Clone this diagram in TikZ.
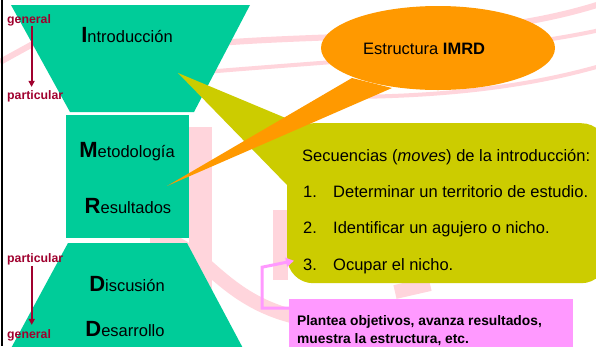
\documentclass[tikz,border=0pt]{standalone}
\usepackage{fontspec}
\setmainfont{Liberation Sans}
\usetikzlibrary{shapes.geometric,arrows.meta}
\definecolor{verde}{HTML}{00CC99}
\definecolor{oliva}{HTML}{CCCC00}
\definecolor{naranja}{HTML}{FF9900}
\definecolor{rosa}{HTML}{FF99FF}
\definecolor{granate}{HTML}{A0002E}
\definecolor{marca}{HTML}{FFD5DC}
\newcommand\inicial[1]{{\fontsize{22}{24}\selectfont\bfseries #1}}

\begin{document}
\begin{tikzpicture}[x=1pt,y=-1pt,
  etapa/.style={anchor=base,inner sep=0pt,font=\fontsize{16.5}{18}\selectfont},
  sentido/.style={anchor=base west,inner sep=0pt,text=granate,font=\fontsize{12.3}{13}\selectfont\bfseries},
  flecha/.style={draw=granate,line width=2pt,-{Triangle[length=6pt,width=6pt]}},
  paso/.style={anchor=base west,inner sep=0pt,font=\fontsize{16.5}{18}\selectfont},
  marcaagua/.style={draw=marca,line width=6pt}]
  \useasboundingbox (0,0) rectangle (596,346);
  \clip (0,0) rectangle (596,346);

  \fill[white] (0,0) rectangle (596,346);
  \fill[marca] (189,127) rectangle (212,346);
  \fill[marca] (273,210) rectangle (288,280);
  \draw[marcaagua] (0,62) -- (40,40);
  \draw[marcaagua] (205,44) .. controls (350,32) and (480,42) .. (600,4);
  \draw[marcaagua,line width=4pt] (205,72) .. controls (350,60) and (500,52) .. (600,30);
  \draw[marcaagua,line width=4pt] (350,97) .. controls (450,96) and (530,86) .. (600,66);
  \draw[marcaagua,line width=14pt] (150,238) .. controls (200,236) and (215,300) .. (300,318);
  \draw[marcaagua,line width=14pt] (395,292) -- (430,284);

  \draw[line width=2.5pt] (2,0) -- (2,346);

  \fill[verde] (11,5) -- (250,5) -- (194,112) -- (70,112) -- cycle;
  \fill[verde] (66,115) rectangle (189,238);
  \fill[verde] (68,243) -- (187,243) -- (245,352) -- (9,352) -- cycle;

  \fill[oliva] (178,73) -- (300,124) -- (288,186) -- cycle;
  \draw(287,123) node[anchor=north west,fill=oliva,rounded corners=26pt,minimum width=320pt,minimum height=160pt] (secuencias) {};

  \fill[naranja] (167,186) -- (352,78) -- (392,88) -- cycle;
  \draw(438,48) node[ellipse,fill=naranja,minimum width=234pt,minimum height=84pt] (imrd) {};
  \draw(363,54) node[paso] (imrdtxt) {Estructura \textbf{IMRD}};

  \draw(289,299) node[anchor=north west,fill=rosa,minimum width=284pt,minimum height=60pt] (nota) {};

  \draw(127,42) node[etapa] (intro) {\inicial{I}ntroducción};
  \draw(127,157) node[etapa] (metodo) {\inicial{M}etodología};
  \draw(128,213) node[etapa] (result) {\inicial{R}esultados};
  \draw(127,291) node[etapa] (discu) {\inicial{D}iscusión};
  \draw(125,336) node[etapa] (desar) {\inicial{D}esarrollo};

  \draw(7,23) node[sentido] (gen1) {general};
  \draw(7,99) node[sentido] (par1) {particular};
  \draw(7,262) node[sentido] (par2) {particular};
  \draw(7,338) node[sentido] (gen2) {general};
  \draw[flecha,shorten >=3pt] ([xshift=2.5pt]gen1.south) -- ([xshift=2.5pt]gen1.south |- par1.north);
  \draw[flecha,shorten >=4pt,shorten <=1pt] ([xshift=-3.5pt]par2.south) -- ([xshift=-3.5pt]par2.south |- gen2.north);

  \draw(302,161) node[paso] (titulo) {Secuencias (\textit{moves}) de la introducción:};
  \draw(303,197) node[paso] (paso1) {\makebox[30pt][l]{1.}Determinar un territorio de estudio.};
  \draw(303,233) node[paso] (paso2) {\makebox[30pt][l]{2.}Identificar un agujero o nicho.};
  \draw(303,270) node[paso] (paso3) {\makebox[30pt][l]{3.}Ocupar el nicho.};

  \draw(297,343) node[anchor=base west,inner sep=0pt,align=left,font=\fontsize{13.8}{18}\selectfont\bfseries] (notatxt) {Plantea objetivos, avanza resultados,\\muestra la estructura, etc.};

  \draw[draw=rosa,line width=3pt,-{Triangle[length=8pt,width=9pt]}] ([yshift=21pt]nota.west) -- ++(-27,0) -- ++(0,-41) -- ([xshift=-9pt,yshift=5pt]paso3.west);
\end{tikzpicture}
\end{document}
